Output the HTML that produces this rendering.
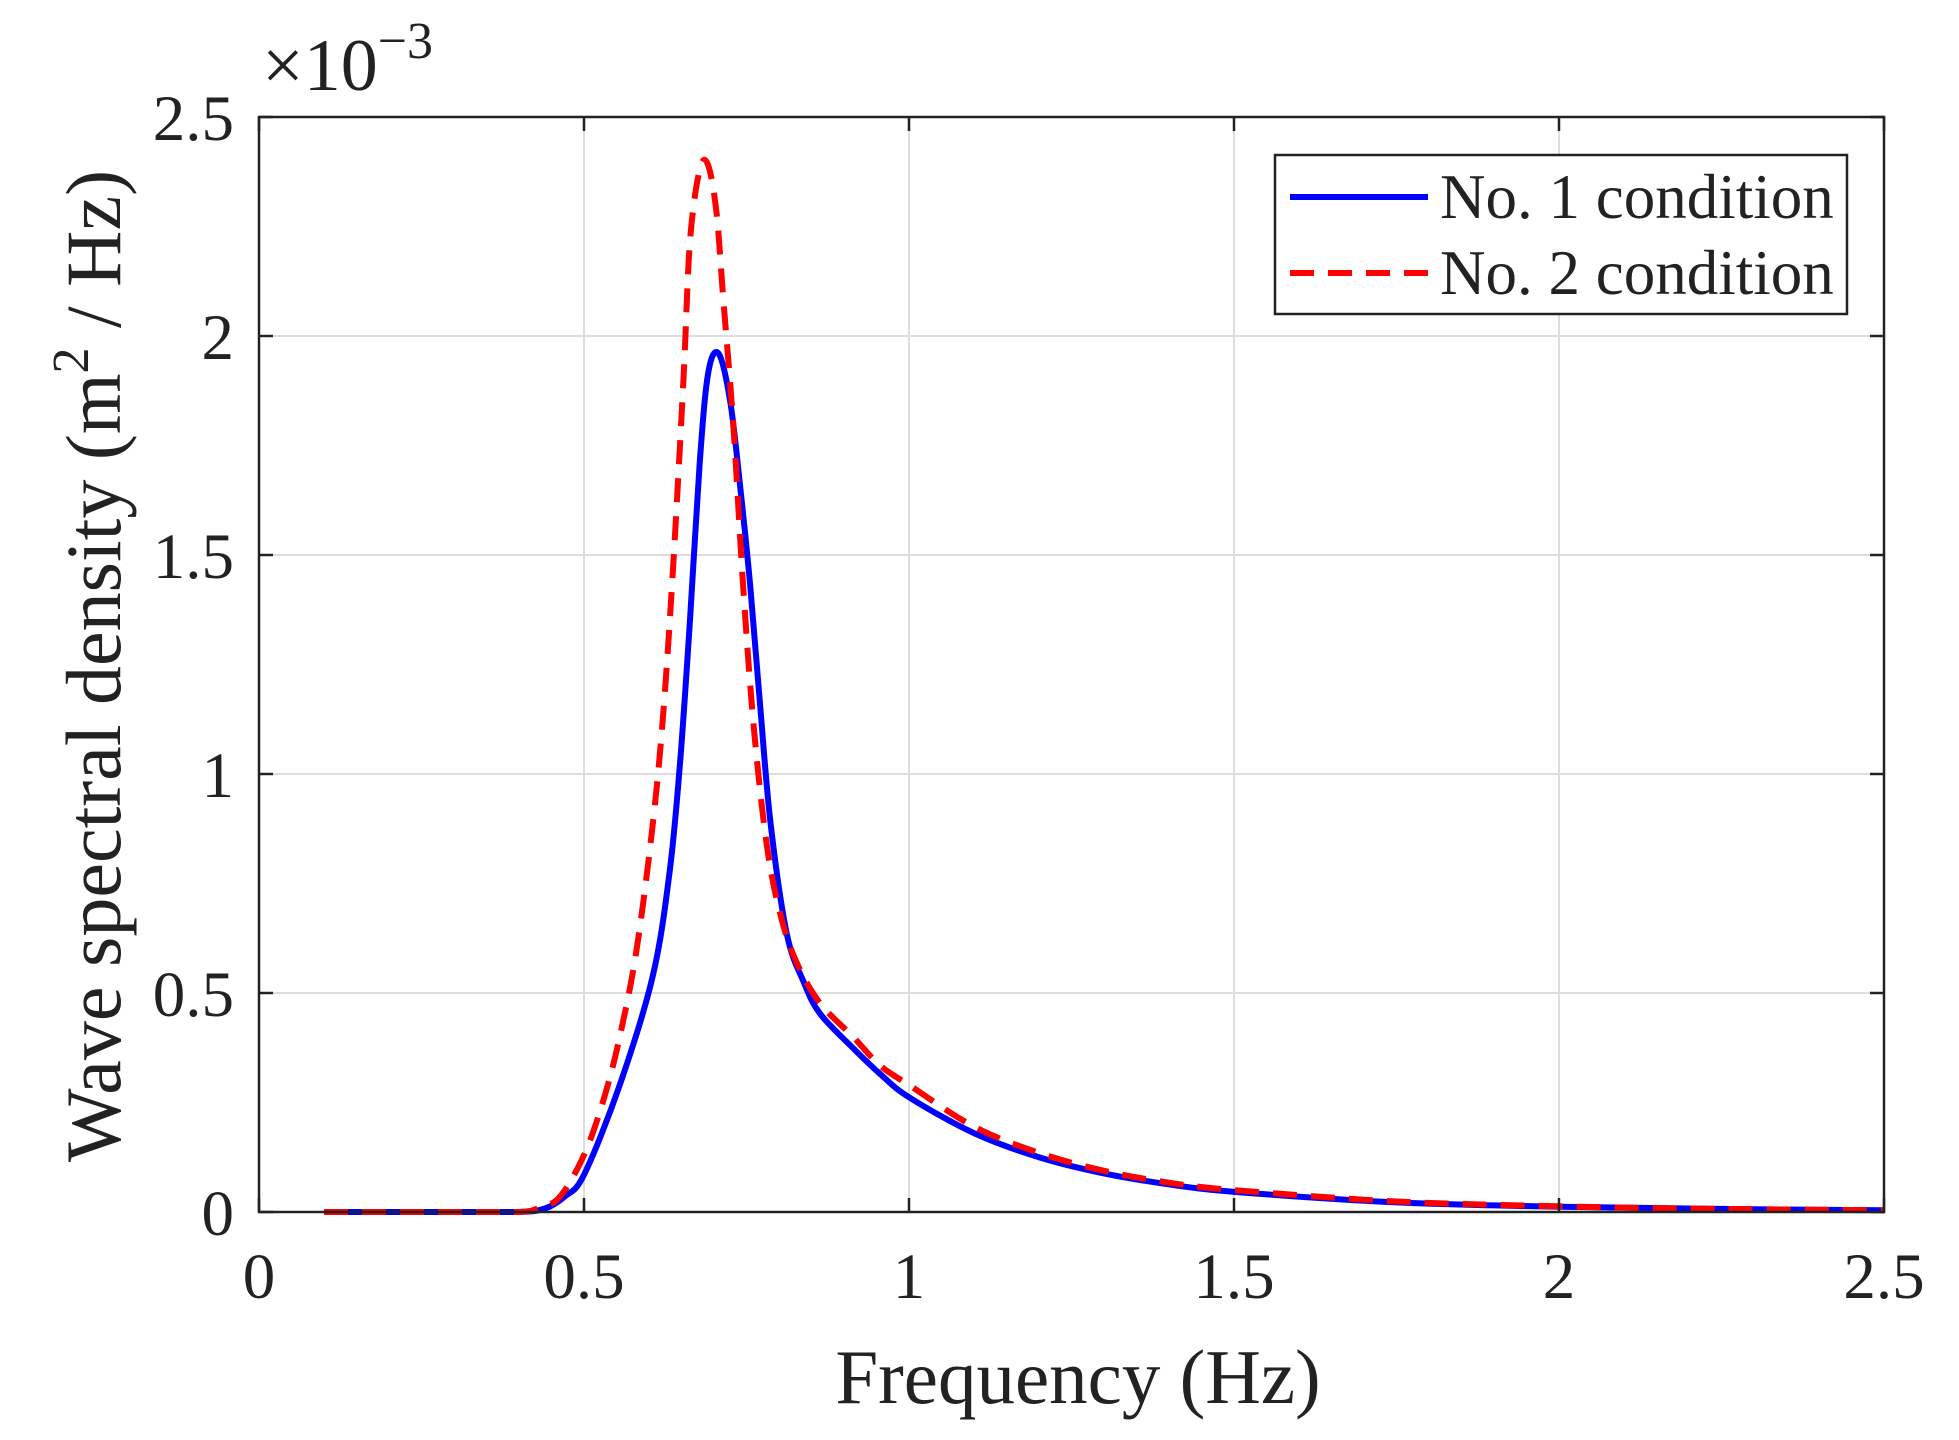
<!DOCTYPE html>
<html><head><meta charset="utf-8">
<style>
html,body{margin:0;padding:0;background:#fff;}
svg{display:block;}
text{font-family:"Liberation Serif","DejaVu Serif",serif;fill:#222;}
</style></head>
<body>
<svg id="chart" width="1959" height="1440" viewBox="0 0 1959 1440" xmlns="http://www.w3.org/2000/svg">
<g id="grid"></g>
<g id="series"></g>
<g id="axes"></g>
<text x="262" y="90" font-size="74">×10<tspan font-size="52" dy="-32">−3</tspan></text>
<text x="1078" y="1403" font-size="77" text-anchor="middle">Frequency (Hz)</text>
<text transform="translate(120,666) rotate(-90)" font-size="78" text-anchor="middle">Wave spectral density (m<tspan font-size="52" dy="-32">2</tspan><tspan dy="32"> / Hz)</tspan></text>
<g>
<rect x="1275" y="155" width="572" height="159" fill="#fff" stroke="#222" stroke-width="2.5"/>
<line x1="1290" y1="197" x2="1428" y2="197" stroke="#0000ff" stroke-width="6"/>
<text x="1440" y="218" font-size="63">No. 1 condition</text>
<line x1="1290" y1="273" x2="1428" y2="273" stroke="#ff0000" stroke-width="6" stroke-dasharray="24 14"/>
<text x="1440" y="294" font-size="63">No. 2 condition</text>
</g>
</svg>
<script>
const xTicks=[0,0.5,1,1.5,2,2.5];
const xTickLabels=["0","0.5","1","1.5","2","2.5"];
const yTicks=[0,0.5,1,1.5,2,2.5];
const yTickLabels=["0","0.5","1","1.5","2","2.5"];
const freq1=[0.1,0.3,0.4,0.44,0.47,0.5,0.555,0.606,0.632,0.648,0.663,0.678,0.691,0.707,0.725,0.740,0.756,0.771,0.787,0.812,0.838,0.863,0.914,0.955,1.0,1.1,1.2,1.3,1.4,1.5,1.75,2.0,2.25,2.5];
const no1Values=[0,0,0,0.008,0.035,0.085,0.29,0.54,0.78,1.03,1.35,1.71,1.915,1.96,1.85,1.66,1.425,1.156,0.888,0.635,0.525,0.453,0.374,0.316,0.262,0.18,0.125,0.088,0.063,0.046,0.022,0.012,0.007,0.004];
const freq2=[0.1,0.3,0.4,0.432,0.463,0.5,0.530,0.555,0.581,0.606,0.622,0.637,0.653,0.663,0.678,0.691,0.704,0.714,0.730,0.745,0.761,0.781,0.802,0.827,0.863,0.914,0.955,1.0,1.1,1.2,1.3,1.4,1.5,1.75,2.0,2.25,2.5];
const no2Values=[0,0,0,0.01,0.035,0.13,0.256,0.40,0.60,0.888,1.14,1.47,1.90,2.215,2.38,2.39,2.28,2.09,1.79,1.425,1.11,0.84,0.68,0.57,0.477,0.40,0.335,0.29,0.195,0.135,0.094,0.067,0.05,0.024,0.013,0.007,0.004];

const L=259,R=1884,T=117,B=1212;
const xMin=0,xMax=2.5,yMin=0,yMax=2.5;
function xs(v){return L+(v-xMin)/(xMax-xMin)*(R-L);}
function ys(v){return B-(v-yMin)/(yMax-yMin)*(B-T);}
const NS="http://www.w3.org/2000/svg";
function mk(tag,attrs,parent){const e=document.createElementNS(NS,tag);for(const k in attrs)e.setAttribute(k,attrs[k]);parent.appendChild(e);return e;}
const grid=document.getElementById('grid'),axes=document.getElementById('axes'),series=document.getElementById('series');

xTicks.forEach((t,i)=>{
  const x=xs(t);
  if(i>0&&i<xTicks.length-1){const g=mk('line',{x1:x,y1:T,x2:x,y2:B,stroke:'#dddddd','stroke-width':2},grid);
  
  }
  const tk=mk('line',{x1:x,y1:B,x2:x,y2:B-14,stroke:'#222','stroke-width':2.5},axes);
  
  
  const tk2=mk('line',{x1:x,y1:T,x2:x,y2:T+14,stroke:'#222','stroke-width':2.5},axes);
  
  
  const lb=mk('text',{x:x,y:1298,'font-size':65,'text-anchor':'middle'},axes);
  lb.textContent=xTickLabels[i];
  
  
});
yTicks.forEach((t,i)=>{
  const y=ys(t);
  if(i>0&&i<yTicks.length-1){const g=mk('line',{x1:L,y1:y,x2:R,y2:y,stroke:'#dddddd','stroke-width':2},grid);
  
  }
  const tk=mk('line',{x1:L,y1:y,x2:L+14,y2:y,stroke:'#222','stroke-width':2.5},axes);
  
  
  const tk2=mk('line',{x1:R,y1:y,x2:R-14,y2:y,stroke:'#222','stroke-width':2.5},axes);
  
  
  const lb=mk('text',{x:234,y:y+23,'font-size':65,'text-anchor':'end'},axes);
  lb.textContent=yTickLabels[i];
  
  
});
const box=mk('rect',{x:L,y:T,width:R-L,height:B-T,fill:'none',stroke:'#222','stroke-width':2.5},axes);



function pathD(fx,fy){
  const p=fx.map((f,i)=>[xs(f),ys(fy[i])]);
  let d='M'+p[0][0]+','+p[0][1];
  for(let i=0;i<p.length-1;i++){
    const p0=p[Math.max(0,i-1)],p1=p[i],p2=p[i+1],p3=p[Math.min(p.length-1,i+2)];
    const c1x=p1[0]+(p2[0]-p0[0])/6,c1y=p1[1]+(p2[1]-p0[1])/6;
    const c2x=p2[0]-(p3[0]-p1[0])/6,c2y=p2[1]-(p3[1]-p1[1])/6;
    d+=' C'+c1x+','+Math.min(B,c1y)+' '+c2x+','+Math.min(B,c2y)+' '+p2[0]+','+p2[1];
  }
  return d;
}
const s1=mk('path',{d:pathD(freq1,no1Values),fill:'none',stroke:'#0000ff','stroke-width':6,'stroke-linejoin':'round'},series);


const s2=mk('path',{d:pathD(freq2,no2Values),fill:'none',stroke:'#ff0000','stroke-width':6,'stroke-dasharray':'24 14'},series);


</script>
</body></html>
